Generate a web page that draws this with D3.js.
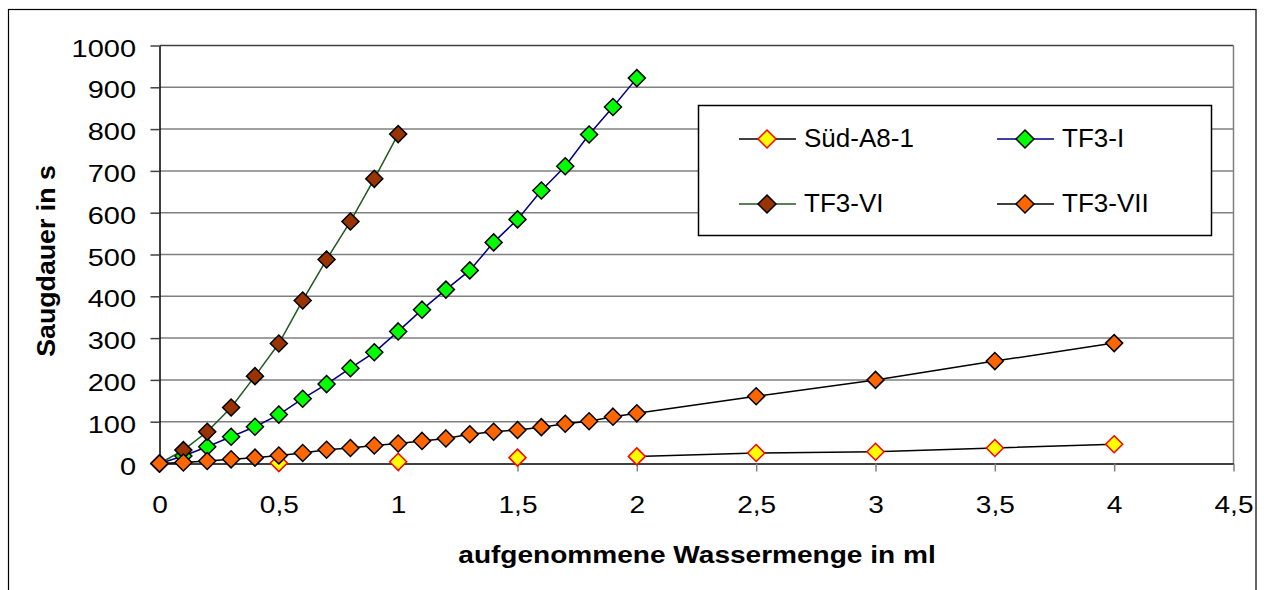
<!DOCTYPE html>
<html>
<head>
<meta charset="utf-8">
<script src="https://cdn.jsdelivr.net/npm/d3@7"></script>
<style>
  body { margin: 0; background: #fff; }
  svg { display: block; font-family: Arial, "Liberation Sans", sans-serif; }
</style>
</head>
<body>
<svg id="canvas" width="1264" height="590"></svg>
<script>
// shared x column (ml), series values in s (null = no measurement)
const xValues = [0, 0.1, 0.2, 0.3, 0.4, 0.5, 0.6, 0.7, 0.8, 0.9, 1.0, 1.1, 1.2, 1.3, 1.4, 1.5, 1.6, 1.7, 1.8, 1.9, 2.0, 2.5, 3, 3.5, 4];
const suedA81 = [0, null, null, null, null, 1, null, null, null, null, 4, null, null, null, null, 14, null, null, null, null, 17, 25, 28, 37, 46];
const tf3I = [0, 18, 40, 64, 88, 117, 155, 190, 228, 266, 316, 368, 416, 462, 529, 584, 653, 711, 787, 853, 922, null, null, null, null];
const tf3VI = [0, 32, 76, 134, 209, 287, 390, 488, 579, 681, 788, null, null, null, null, null, null, null, null, null, null, null, null, null, null];
const tf3VII = [0, 2.5, 6, 10, 14, 19, 25, 33, 37, 43, 48, 54, 60, 70, 76, 80, 87, 95, 101, 112, 120, 161, 200, 245, 288];

const seriesNames = ["Süd-A8-1", "TF3-I", "TF3-VI", "TF3-VII"];
const xTicks = [0, 0.5, 1, 1.5, 2, 2.5, 3, 3.5, 4, 4.5];
const xTickLabels = ["0", "0,5", "1", "1,5", "2", "2,5", "3", "3,5", "4", "4,5"];
const yTicks = [0, 100, 200, 300, 400, 500, 600, 700, 800, 900, 1000];

const series = [
  { name: seriesNames[0], values: suedA81, line: "#000000", fill: "#ffff00", stroke: "#ff0000" },
  { name: seriesNames[1], values: tf3I, line: "#000080", fill: "#00ff00", stroke: "#000000" },
  { name: seriesNames[2], values: tf3VI, line: "#1f5a1f", fill: "#993300", stroke: "#000000" },
  { name: seriesNames[3], values: tf3VII, line: "#000000", fill: "#ff6600", stroke: "#000000" }
];

const svg = d3.select("#canvas");

// outer frame
svg.append("rect")
  .attr("x", 8.5).attr("y", 9.5)
  .attr("width", 1247.5).attr("height", 600)
  .attr("fill", "none").attr("stroke", "#000").attr("stroke-width", 1.2);

const x = d3.scaleLinear().domain([0, 4.5]).range([159.5, 1233.5]);
const y = d3.scaleLinear().domain([0, 1000]).range([463.5, 45.5]);

// gridlines
svg.append("g")
  .selectAll("line")
  .data(yTicks.filter((d) => d > 0))
  .enter()
  .append("line")
  .attr("x1", x(0)).attr("x2", x(4.5))
  .attr("y1", (d) => y(d)).attr("y2", (d) => y(d))
  .attr("stroke", (d) => (d === 1000 ? "#404040" : "#808080"))
  .attr("stroke-width", 1.5);

// plot area right edge
svg.append("line")
  .attr("x1", x(4.5)).attr("x2", x(4.5))
  .attr("y1", y(1000)).attr("y2", y(0))
  .attr("stroke", "#808080").attr("stroke-width", 1.5);

// axes
const xAxis = svg.append("g")
  .attr("transform", `translate(0,${y(0)})`)
  .call(d3.axisBottom(x).tickValues(xTicks).tickFormat((d, i) => xTickLabels[i]).tickSize(8).tickSizeOuter(0));

xAxis.select(".domain").attr("stroke", "#000").attr("stroke-width", 1.5);
xAxis.selectAll(".tick line").attr("stroke", "#808080").attr("stroke-width", 1.5);
xAxis.selectAll(".tick text")
  .attr("dy", null).attr("y", 50)
  .attr("font-size", 23).attr("fill", "#000")
  .attr("transform", "scale(1.22,1)");

const yAxis = svg.append("g")
  .attr("transform", `translate(${x(0)},0)`)
  .call(d3.axisLeft(y).tickValues(yTicks).tickFormat(d3.format("d")).tickSize(9).tickSizeOuter(0));

yAxis.select(".domain").attr("stroke", "#000").attr("stroke-width", 1.5);
yAxis.selectAll(".tick line").attr("stroke", "#404040").attr("stroke-width", 1.5);
yAxis.selectAll(".tick text")
  .attr("dy", null).attr("y", 10.5).attr("x", -23.5 / 1.26)
  .attr("font-size", 23).attr("fill", "#000")
  .attr("transform", "scale(1.26,1)");

// axis titles
svg.append("text")
  .attr("transform", "translate(697,563) scale(1.22,1)")
  .attr("text-anchor", "middle")
  .attr("font-size", 23).attr("font-weight", "bold")
  .text("aufgenommene Wassermenge in ml");

svg.append("text")
  .attr("transform", "translate(55,261) rotate(-90) scale(1.07,1)")
  .attr("text-anchor", "middle")
  .attr("font-size", 25).attr("font-weight", "bold")
  .text("Saugdauer in s");

// series
const diamond = (r) => `M0,${-r}L${r},0L0,${r}L${-r},0Z`;

series.forEach((s) => {
  const pts = xValues.map((xv, i) => ({ x: xv, y: s.values[i] }));
  const line = d3.line()
    .defined((d) => d.y !== null)
    .x((d) => x(d.x))
    .y((d) => y(d.y));

  const g = svg.append("g");
  g.append("path")
    .attr("d", line(pts))
    .attr("fill", "none")
    .attr("stroke", s.line)
    .attr("stroke-width", 1.5);

  g.selectAll("path.marker")
    .data(pts.filter((d) => d.y !== null))
    .enter()
    .append("path")
    .attr("class", "marker")
    .attr("d", diamond(8.5))
    .attr("transform", (d) => `translate(${x(d.x)},${y(d.y)})`)
    .attr("fill", s.fill)
    .attr("stroke", s.stroke)
    .attr("stroke-width", 1.5);
});

// legend
const legend = svg.append("g");
legend.append("rect")
  .attr("x", 698.5).attr("y", 105.5)
  .attr("width", 513).attr("height", 130)
  .attr("fill", "#fff").attr("stroke", "#000").attr("stroke-width", 1.5);

const legendPos = [
  { lx: 739, mx: 767, tx: 804, y: 139 },
  { lx: 997, mx: 1025, tx: 1062, y: 139 },
  { lx: 739, mx: 767, tx: 804, y: 204 },
  { lx: 997, mx: 1025, tx: 1062, y: 204 }
];

series.forEach((s, i) => {
  const p = legendPos[i];
  const item = legend.append("g");
  item.append("line")
    .attr("x1", p.lx).attr("x2", p.lx + 57)
    .attr("y1", p.y).attr("y2", p.y)
    .attr("stroke", s.line).attr("stroke-width", 1.5);
  item.append("path")
    .attr("d", diamond(9))
    .attr("transform", `translate(${p.mx},${p.y})`)
    .attr("fill", s.fill).attr("stroke", s.stroke).attr("stroke-width", 1.5);
  item.append("text")
    .attr("x", p.tx).attr("y", p.y + 7.5)
    .attr("font-size", 26)
    .text(s.name);
});
</script>
</body>
</html>
